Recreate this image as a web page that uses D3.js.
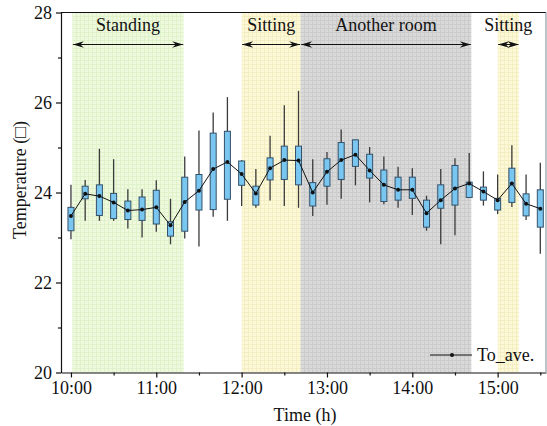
<!DOCTYPE html>
<html lang="en">
<head>
<meta charset="UTF-8">
<title>Temperature boxes</title>
<script src="https://d3js.org/d3.v7.min.js"></script>
<style>
  body { margin: 0; background: #fff; }
  svg text { font-family: "Liberation Serif", "DejaVu Serif", serif; fill: #111; }
</style>
</head>
<body>
<svg id="canvas" width="547" height="426"></svg>
<script>
// time of each box, in minutes after 10:00
let times = [0, 10, 20, 30, 40, 50, 60, 70, 80, 90, 100, 110, 120, 130, 140, 150, 160,
             170, 180, 190, 200, 210, 220, 230, 240, 250, 260, 270, 280, 290, 300, 310, 320, 330]
let whiskerLow  = [22.96, 23.37, 23.37, 23.37, 23.20, 23.00, 23.13, 22.85, 22.98, 22.80, 23.46, 23.37,
                   23.70, 23.66, 23.82, 23.70, 23.66, 23.48, 23.73, 23.86, 24.16, 23.78, 23.74, 23.66,
                   23.50, 23.15, 22.85, 23.05, 23.88, 23.71, 23.52, 23.68, 23.39, 22.64]
let boxLow      = [23.15, 23.86, 23.49, 23.42, 23.40, 23.38, 23.30, 23.03, 23.14, 23.61, 23.62, 23.85,
                   24.16, 23.72, 24.28, 24.29, 24.17, 23.70, 24.14, 24.29, 24.58, 24.32, 23.80, 23.83,
                   23.87, 23.23, 23.65, 23.72, 23.89, 23.83, 23.61, 23.78, 23.48, 23.23]
let boxHigh     = [23.67, 24.14, 24.17, 23.98, 23.81, 23.90, 24.05, 23.35, 24.34, 24.40, 25.32, 25.36,
                   24.70, 24.14, 24.77, 25.03, 25.03, 24.22, 24.75, 25.11, 25.17, 24.85, 24.50, 24.34,
                   24.34, 23.83, 24.17, 24.60, 24.23, 24.12, 23.87, 24.54, 23.97, 24.06]
let whiskerHigh = [24.17, 24.28, 24.97, 24.74, 24.07, 24.07, 24.27, 23.86, 24.80, 25.38, 25.78, 26.12,
                   24.72, 24.52, 25.26, 25.94, 26.26, 24.74, 24.90, 25.40, 25.18, 25.01, 24.80, 24.57,
                   24.54, 23.93, 24.52, 24.76, 24.88, 24.47, 24.40, 25.05, 24.40, 24.66]
let average     = [23.48, 23.97, 23.92, 23.78, 23.60, 23.62, 23.67, 23.27, 23.79, 24.04, 24.52, 24.68,
                   24.41, 23.98, 24.54, 24.72, 24.71, 24.00, 24.46, 24.72, 24.84, 24.49, 24.17, 24.06,
                   24.06, 23.54, 23.83, 24.09, 24.20, 24.02, 23.83, 24.20, 23.75, 23.64]

// shaded periods (minutes after 10:00)
let periodNames = ["Standing", "Sitting", "Another room", "Sitting"]
let periodStart = [1, 120, 161.5, 300]
let periodEnd   = [79.3, 161.5, 281.5, 315]
let periodKind  = ["green", "yellow", "gray", "yellow"]

let xTicks = [0, 60, 120, 180, 240, 300]
let xTickLabels = ["10:00", "11:00", "12:00", "13:00", "14:00", "15:00"]
let yTicks = [20, 22, 24, 26, 28]

let svg = d3.select('#canvas')
let plotLeft = 61, plotRight = 546, plotTop = 12.5, plotBottom = 372.5

let x = d3.scaleLinear().domain([-7, 334]).range([plotLeft, plotRight])
let y = d3.scaleLinear().domain([20, 28]).range([plotBottom, plotTop])

// grid-like patterns for the shaded periods
let defs = svg.append('defs')
let patternColors = {
    green:  ['#eef9de', '#e0f2c9'],
    yellow: ['#fcf8d8', '#f4eec3'],
    gray:   ['#d9d9d9', '#cbcbcb']
}
Object.keys(patternColors).forEach(k => {
    let p = defs.append('pattern').attr('id', 'pat-' + k)
        .attr('width', 4).attr('height', 4).attr('patternUnits', 'userSpaceOnUse')
    p.append('rect').attr('width', 4).attr('height', 4).attr('fill', patternColors[k][0])
    p.append('path').attr('d', 'M0,0.5H4M0.5,0V4').attr('stroke', patternColors[k][1]).attr('stroke-width', 1)
})
defs.append('marker').attr('id', 'arrow')
    .attr('viewBox', '-12 -5 12 10').attr('refX', 0).attr('refY', 0)
    .attr('markerWidth', 12).attr('markerHeight', 10).attr('markerUnits', 'userSpaceOnUse')
    .attr('orient', 'auto-start-reverse')
    .append('path').attr('d', 'M0,0L-11,-3.3L-7.5,0L-11,3.3Z').attr('fill', '#111')

periodNames.forEach((name, i) => {
    svg.append('rect')
        .attr('x', x(periodStart[i])).attr('y', plotTop)
        .attr('width', x(periodEnd[i]) - x(periodStart[i])).attr('height', plotBottom - plotTop)
        .attr('fill', 'url(#pat-' + periodKind[i] + ')')
    let mid = (x(periodStart[i]) + x(periodEnd[i])) / 2
    svg.append('text').attr('x', mid).attr('y', 31)
        .attr('text-anchor', 'middle').attr('font-size', 18).text(name)
    svg.append('line')
        .attr('x1', x(periodStart[i]) + 0.5).attr('x2', x(periodEnd[i]) - 0.5)
        .attr('y1', 44.5).attr('y2', 44.5)
        .attr('stroke', '#111').attr('stroke-width', 1)
        .attr('marker-start', 'url(#arrow)').attr('marker-end', 'url(#arrow)')
})

// boxes
let boxW = 6
let g = svg.append('g')
times.forEach((t, i) => {
    g.append('line')
        .attr('x1', x(t)).attr('x2', x(t))
        .attr('y1', y(whiskerLow[i])).attr('y2', y(whiskerHigh[i]))
        .attr('stroke', '#3a3a3a').attr('stroke-width', 1.3)
    g.append('rect')
        .attr('x', x(t) - boxW / 2).attr('y', y(boxHigh[i]))
        .attr('width', boxW).attr('height', y(boxLow[i]) - y(boxHigh[i]))
        .attr('fill', '#79c7f1').attr('stroke', '#34506a').attr('stroke-width', 1)
})

// average line
let line = d3.line().x((d, i) => x(times[i])).y(d => y(d))
svg.append('path').datum(average)
    .attr('d', line).attr('fill', 'none').attr('stroke', '#111').attr('stroke-width', 1)
svg.selectAll('circle.avg').data(average).enter().append('circle')
    .attr('class', 'avg')
    .attr('cx', (d, i) => x(times[i])).attr('cy', d => y(d)).attr('r', 2).attr('fill', '#111')

// axes
let xAxis = d3.axisBottom(x).tickValues(xTicks).tickFormat((d, i) => xTickLabels[i])
    .tickSize(5).tickSizeOuter(0).tickPadding(4)
svg.append('g').attr('transform', `translate(0,${plotBottom})`).call(xAxis)
svg.append('g').attr('transform', `translate(0,${plotBottom})`)
    .call(d3.axisBottom(x).tickValues([30, 90, 150, 210, 270, 330]).tickFormat('').tickSize(3).tickSizeOuter(0))
    .select('.domain').remove()

let yAxis = d3.axisLeft(y).tickValues(yTicks).tickSize(5).tickSizeOuter(0).tickPadding(4)
svg.append('g').attr('transform', `translate(${plotLeft},0)`).call(yAxis)
svg.append('g').attr('transform', `translate(${plotLeft},0)`)
    .call(d3.axisLeft(y).tickValues([21, 23, 25, 27]).tickFormat('').tickSize(3).tickSizeOuter(0))
    .select('.domain').remove()

svg.selectAll('.tick text').attr('font-size', 18).attr('font-family', '"Liberation Serif", serif').attr('fill', '#111')
svg.selectAll('.domain, .tick line').attr('stroke', '#111').attr('stroke-width', 1.2)

svg.append('line').attr('x1', plotLeft).attr('x2', plotRight).attr('y1', plotTop).attr('y2', plotTop)
    .attr('stroke', '#111').attr('stroke-width', 1.2)
svg.append('line').attr('x1', plotRight).attr('x2', plotRight).attr('y1', plotTop).attr('y2', plotBottom)
    .attr('stroke', '#8aa0a8').attr('stroke-width', 1.2)

// axis titles
svg.append('text').attr('x', 305).attr('y', 421).attr('text-anchor', 'middle')
    .attr('font-size', 18).text('Time (h)')
svg.append('text').attr('transform', 'translate(26,180) rotate(-90)')
    .attr('text-anchor', 'middle').attr('font-size', 18).text('Temperature (\u25A1)')

// legend
svg.append('line').attr('x1', 430).attr('x2', 472).attr('y1', 355).attr('y2', 355)
    .attr('stroke', '#111').attr('stroke-width', 1)
svg.append('circle').attr('cx', 452).attr('cy', 355).attr('r', 2).attr('fill', '#111')
svg.append('text').attr('x', 477).attr('y', 361).attr('font-size', 18).text('To_ave.')
</script>
</body>
</html>
